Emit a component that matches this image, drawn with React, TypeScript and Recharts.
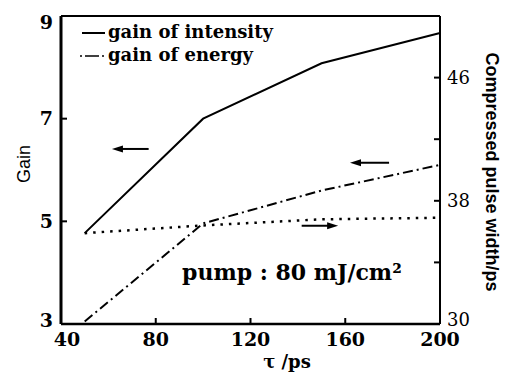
import React from 'react';
import { ComposedChart, Line, XAxis, YAxis, ReferenceLine, Customized } from 'recharts';

// values
const tauValues = [50, 100, 150, 200];
const gainIntensity = [4.77, 7.0, 8.08, 8.67];
const gainEnergy = [3.05, 4.96, 5.6, 6.1];
const pulseWidth = [35.9, 36.4, 36.8, 36.9];

const xTicks = [40, 80, 120, 160, 200];
const gainTicks = [3, 5, 7, 9];
const widthTicks = [30, 34, 38, 42, 46];
const widthTickLabels = ['30', '', '38', '', '46'];

// arrows point to the axis each curve is read against (tail -> head)
const arrows = [
  { axis: 'gain', from: 77, to: 61.5, y: 6.41 },
  { axis: 'gain', from: 178.5, to: 162, y: 6.14 },
  { axis: 'width', from: 141.6, to: 157, y: 36.38 },
];

const data = tauValues.map((tau, i) => ({
  tau,
  intensity: gainIntensity[i],
  energy: gainEnergy[i],
  width: pulseWidth[i],
}));

const serif = '"DejaVu Serif", serif';
const sans = '"Liberation Sans", Arial, sans-serif';

// tick label renderer with small per-label nudges (labels at the corners sit off the tick in the scan)
const makeTick = (opts: { size: number; bold?: boolean; vertical: 'middle' | 'top'; nudge?: Record<number, [number, number]>; labels?: (v: number) => string }) =>
  (props: any) => {
    const { x, y, payload, textAnchor } = props;
    const v = payload.value;
    const [dx, dy] = opts.nudge?.[v] ?? [0, 0];
    const label = opts.labels ? opts.labels(v) : String(v);
    return (
      <text
        x={x + dx}
        y={y + dy}
        dy={opts.vertical === 'middle' ? '0.35em' : '0.72em'}
        textAnchor={textAnchor}
        fill="#000"
        fontFamily={serif}
        fontWeight={opts.bold ? 'bold' : 'normal'}
        fontSize={opts.size}
      >
        {label}
      </text>
    );
  };

const xTick = makeTick({ size: 19, bold: true, vertical: 'top', nudge: { 40: [6, 0] } });
const gainTick = makeTick({ size: 19, bold: true, vertical: 'middle', nudge: { 9: [0, 6], 3: [0, -4] } });
const widthTick = makeTick({
  size: 18,
  vertical: 'middle',
  nudge: { 30: [0, -4] },
  labels: (v) => widthTickLabels[widthTicks.indexOf(v)] ?? '',
});

const ArrowShape = (props: any) => {
  const { x1, y1, x2, y2 } = props;
  if (x1 == null) return null;
  const dir = x2 > x1 ? 1 : -1;
  return (
    <g>
      <line x1={x1} y1={y1} x2={x2 - dir * 6} y2={y2} stroke="#000" strokeWidth={2} />
      <polygon points={`${x2},${y2} ${x2 - dir * 11},${y2 - 3.5} ${x2 - dir * 11},${y2 + 3.5}`} fill="#000" />
    </g>
  );
};

const Annotations = () => (
  <g>
    {/* legend */}
    <line x1={82} y1={33} x2={105} y2={33} stroke="#000" strokeWidth={2} />
    <text x={108} y={38} fontFamily={serif} fontWeight="bold" fontSize={18}>gain of intensity</text>
    <line x1={80} y1={56} x2={106} y2={56} stroke="#000" strokeWidth={1.6} strokeDasharray="2 3 14 3 2 3" />
    <text x={108} y={61} fontFamily={serif} fontWeight="bold" fontSize={18}>gain of energy</text>
    <text x={182} y={280} fontFamily={serif} fontWeight="bold" fontSize={22}>pump : 80 mJ/cm²</text>
    {/* axis titles */}
    <text x={287} y={368} textAnchor="middle" fontFamily={serif} fontWeight="bold" fontSize={18}>τ /ps</text>
    <text x={0} y={0} transform="translate(30,164) rotate(-90)" textAnchor="middle" fontFamily={sans} fontSize={18}>Gain</text>
    <text x={0} y={0} transform="translate(486,172) rotate(90)" textAnchor="middle" fontFamily={sans} fontWeight="bold" fontSize={18}>Compressed pulse width/ps</text>
  </g>
);

export default function App() {
  return (
    <div style={{ position: 'absolute', left: 0, top: 0, background: '#fff' }}>
      <ComposedChart width={515} height={372} data={data} margin={{ top: 16, right: 0, bottom: 0, left: 0 }}>
        <XAxis
          dataKey="tau"
          type="number"
          domain={[40, 200]}
          ticks={xTicks}
          height={48}
          axisLine={{ stroke: '#000', strokeWidth: 2.5 }}
          tickLine={{ stroke: '#000', strokeWidth: 2 }}
          tickSize={-6}
          tickMargin={14}
          tick={xTick}
        />
        <YAxis
          yAxisId="gain"
          orientation="left"
          domain={[3, 9]}
          ticks={gainTicks}
          width={61}
          axisLine={{ stroke: '#000', strokeWidth: 3 }}
          tickLine={{ stroke: '#000', strokeWidth: 2 }}
          tickSize={-6}
          tickMargin={14}
          tick={gainTick}
        />
        <YAxis
          yAxisId="width"
          orientation="right"
          domain={[30, 50]}
          ticks={widthTicks}
          width={75}
          axisLine={{ stroke: '#000', strokeWidth: 2 }}
          tickLine={{ stroke: '#000', strokeWidth: 2 }}
          tickSize={-6}
          tickMargin={13}
          tick={widthTick}
        />
        <ReferenceLine yAxisId="gain" y={9} stroke="#000" strokeWidth={2} />
        {arrows.map((a, i) => (
          <ReferenceLine
            key={i}
            yAxisId={a.axis}
            segment={[{ x: a.from, y: a.y }, { x: a.to, y: a.y }]}
            shape={<ArrowShape />}
          />
        ))}
        <Line yAxisId="gain" dataKey="intensity" type="linear" stroke="#000" strokeWidth={2} dot={false} isAnimationActive={false} />
        <Line yAxisId="gain" dataKey="energy" type="linear" stroke="#000" strokeWidth={2} strokeDasharray="10 4 2 4" dot={false} isAnimationActive={false} />
        <Line yAxisId="width" dataKey="width" type="linear" stroke="#000" strokeWidth={2.5} strokeDasharray="2.5 6" dot={false} isAnimationActive={false} />
        <Customized component={Annotations} />
      </ComposedChart>
    </div>
  );
}
